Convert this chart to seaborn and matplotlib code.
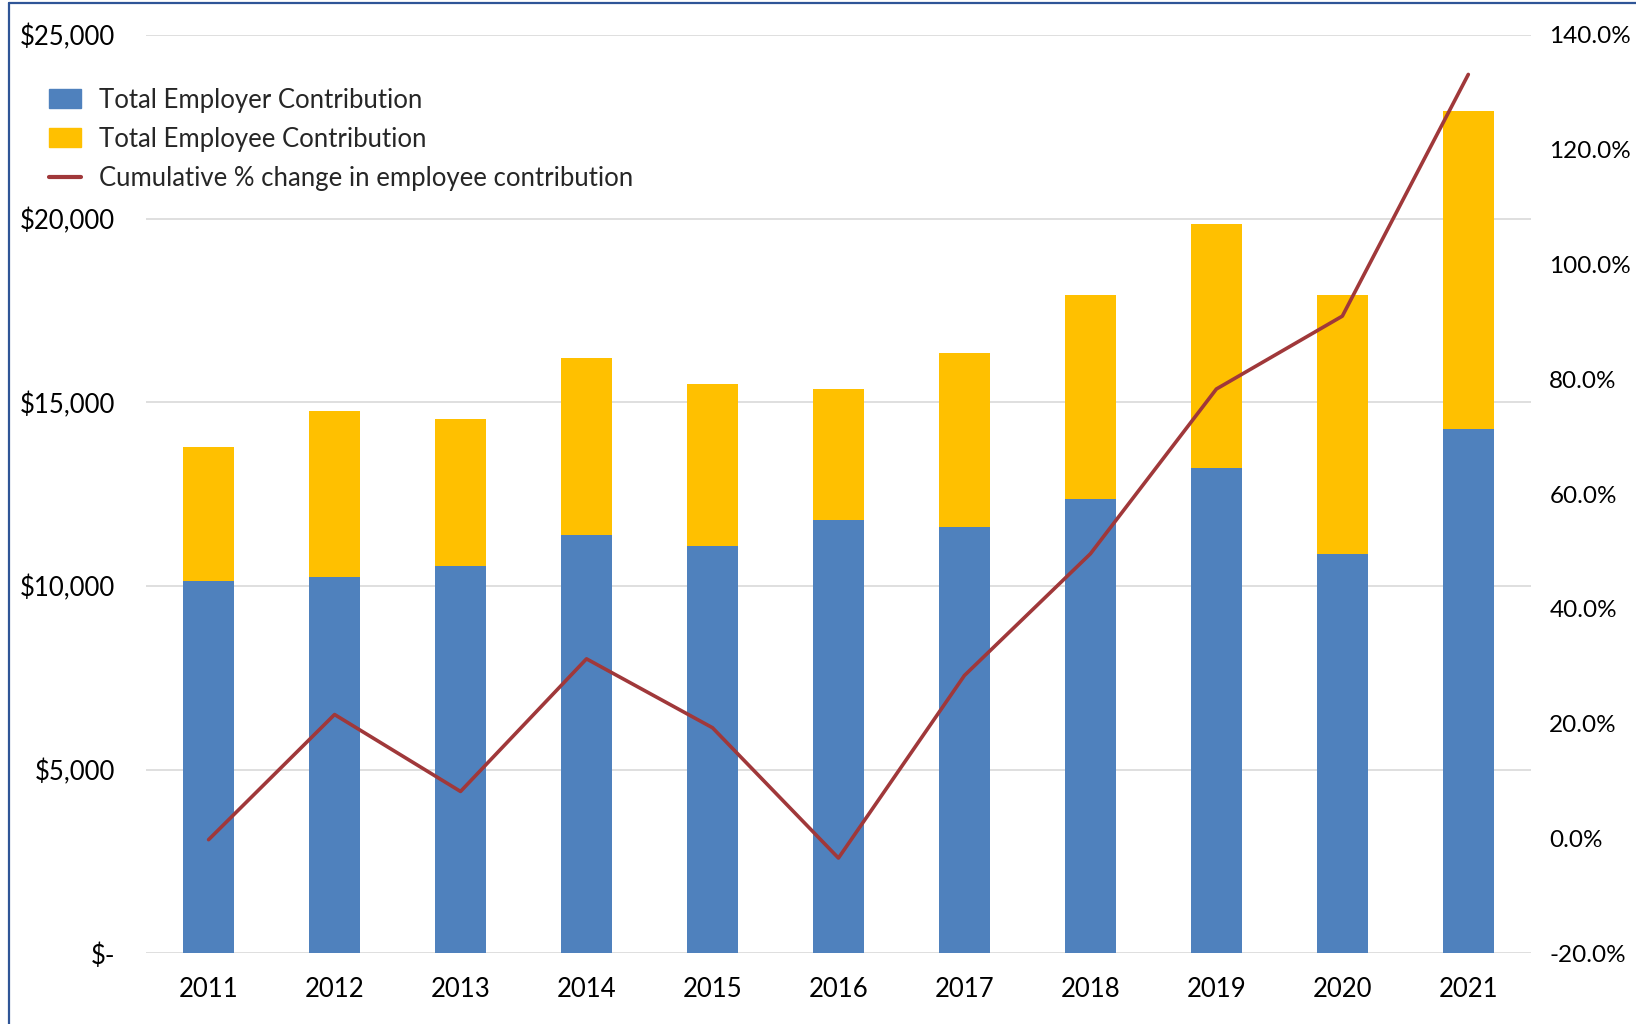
import pandas as pd
import matplotlib.pyplot as plt
import seaborn as sns
from matplotlib.patches import Patch
from matplotlib.lines import Line2D
from matplotlib.ticker import FuncFormatter

# Werte
years = ['2011', '2012', '2013', '2014', '2015', '2016', '2017', '2018', '2019', '2020', '2021']
employer = [10130, 10240, 10530, 11380, 11100, 11800, 11610, 12370, 13220, 10870, 14270]
total = [13790, 14760, 14530, 16200, 15490, 15350, 16350, 17910, 19860, 17910, 22930]
pct_change = [-0.2, 21.6, 8.2, 31.3, 19.3, -3.4, 28.4, 49.6, 78.3, 91.0, 133.1]

df = pd.DataFrame({'year': years, 'employer': employer, 'total': total, 'pct': pct_change})

sns.set_style("white")
plt.rcParams['font.family'] = ['Lato', 'DejaVu Sans']

fig = plt.figure(figsize=(16.36, 10.24), dpi=100)
ax = fig.add_axes([0.089, 0.069, 0.847, 0.897])

blue = '#4F81BD'
yellow = '#FFC000'
red = '#A0383A'
fs = 18.5

# gestapelte Balken: erst Gesamt (gelb), dann Arbeitgeber (blau) drüber
sns.barplot(data=df, x='year', y='total', color=yellow, width=0.4, ax=ax, saturation=1,
            linewidth=0, zorder=2)
sns.barplot(data=df, x='year', y='employer', color=blue, width=0.4, ax=ax, saturation=1,
            linewidth=0, zorder=3)

ax.set_xlim(-0.5, 10.5)
ax.set_ylim(0, 25000)
ax.set_yticks(range(0, 25001, 5000))
ax.yaxis.set_major_formatter(FuncFormatter(lambda v, p: '$-' if v == 0 else '${:,.0f}'.format(v)))
ax.grid(axis='y', color='#D9D9D9', linewidth=1.2, zorder=0)
ax.set_axisbelow(True)
ax.set_xlabel('')
ax.set_ylabel('')
for s in ax.spines.values():
    s.set_visible(False)
ax.tick_params(axis='both', length=0, labelsize=fs, colors='black')
ax.tick_params(axis='y', pad=22)
ax.tick_params(axis='x', pad=17)

# zweite Achse für die prozentuale Veränderung
ax2 = ax.twinx()
sns.lineplot(data=df, x='year', y='pct', color=red, linewidth=2.6, ax=ax2, sort=False, zorder=4)
ax2.set_ylim(-20, 140)
ax2.set_yticks(range(-20, 141, 20))
ax2.yaxis.set_major_formatter(FuncFormatter(lambda v, p: '{:.1f}%'.format(v)))
ax2.set_ylabel('')
ax2.set_xlabel('')
for s in ax2.spines.values():
    s.set_visible(False)
ax2.tick_params(axis='y', length=0, labelsize=17.5, pad=13, colors='black')
ax2.set_xlim(-0.5, 10.5)

# Legende
handles = [Patch(color=blue, label='Total Employer Contribution'),
           Patch(color=yellow, label='Total Employee Contribution'),
           Line2D([0], [0], color=red, linewidth=3, label='Cumulative % change in employee contribution')]
fig.legend(handles=handles, loc='upper left', bbox_to_anchor=(0.016, 0.937), frameon=False,
           fontsize=fs, handlelength=1.25, handleheight=0.75, labelspacing=0.55, handletextpad=0.7)

# blauer Rahmen links und oben
fig.add_artist(Line2D([0.0055, 0.0055], [0, 0.997], color='#2F5597', linewidth=1.6, transform=fig.transFigure))
fig.add_artist(Line2D([0.0055, 1.0], [0.997, 0.997], color='#2F5597', linewidth=1.6, transform=fig.transFigure))

plt.savefig("out.png", dpi=100)
